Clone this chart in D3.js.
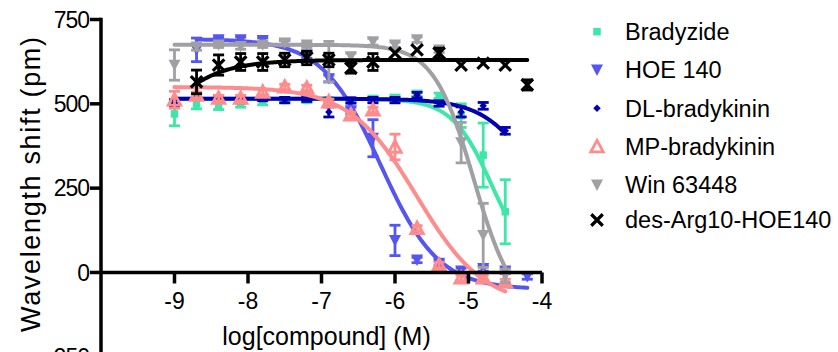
<!DOCTYPE html>
<html>
<head>
<meta charset="utf-8">
<script src="https://cdn.jsdelivr.net/npm/d3@7"></script>
<style>
  html, body { margin: 0; padding: 0; background: #fff; }
  svg { display: block; font-family: "Liberation Sans", Arial, sans-serif; }
</style>
</head>
<body>
<svg id="chart" width="838" height="352"></svg>
<script>
// ---- data ----
const logConc = [-9, -8.7, -8.4, -8.1, -7.8, -7.5, -7.2, -6.9, -6.6, -6.3, -6.0, -5.7, -5.4, -5.1, -4.8, -4.5, -4.2];

const seriesNames = ["Bradyzide", "HOE 140", "DL-bradykinin", "MP-bradykinin", "Win 63448", "des-Arg10-HOE140"];

const bradyzideMean = [470, 500, 495, 500, 505, 510, 510, 512, 510, 515, 518, 530, 524, 465, 348, 180, null];
const bradyzideErr  = [35, 15, 12, 10, 8, 6, 6, 6, 6, 8, 8, 8, 8, 35, 95, 95, null];

const hoeMean = [null, 660, 690, 690, 688, 680, 645, 575, 480, 398, 95, 37, 28, 5, 12, 5, -12];
const hoeErr  = [null, 35, 8, 8, 8, 8, 10, 10, 10, 55, 45, 8, 8, 8, 8, 8, 8];

const dlMean = [502, 526, 517, 511, 517, 511, 515, 476, 510, 511, 511, 526, 501, 476, 494, 420, null];
const dlErr  = [10, 8, 8, 8, 8, 8, 8, 15, 8, 8, 8, 8, 8, 15, 10, 10, null];

const mpMean = [512, 526, 517, 517, 535, 550, 547, 506, 467, 482, 372, 131, 22, -16, -16, -28, null];
const mpErr  = [25, 8, 8, 8, 8, 8, 8, 8, 8, 8, 38, 8, 8, 8, 8, 8, null];

const winMean = [615, 669, 675, 670, 675, 680, 675, 625, 640, 684, 675, 690, 660, 385, 110, -10, null];
const winErr  = [45, 10, 8, 8, 8, 8, 8, 60, 10, 10, 8, 8, 8, 60, 95, 20, null];

const desMean = [null, 565, 615, 624, 624, 630, 636, 630, 606, 624, 650, 660, 650, 615, 621, 615, 556];
const desErr  = [null, 35, 30, 25, 25, 20, 20, 20, 15, 25, 0, 0, 15, 0, 0, 0, 15];

// fitted curve parameters (top, bottom, logEC50, hill) and x range
const fitTop    = [515, 692, 515, 550, 675, 630];
const fitBottom = [0, -50, 0, -100, -120, 0];
const fitLogEC  = [-4.68, -6.2, -4.0, -5.7, -4.93, -9.6];
const fitHill   = [1.6, 1.1, 1.2, 0.95, 1.6, -1.0];
const fitFrom   = [-9, -8.7, -9, -9, -9, -8.7];
const fitTo     = [-4.5, -4.2, -4.5, -4.5, -4.5, -4.2];

const seriesColors = ["#3EE6A8", "#5555F2", "#0000B0", "#FF8C8C", "#A0A0A4", "#000000"];
const seriesShapes = ["square", "tridown", "diamond", "triup", "tridown", "cross"];

const xTicks = [-9, -8, -7, -6, -5, -4];
const yTicks = [750, 500, 250, 0, -250];

// ---- chart ----
const svg = d3.select("#chart");
const x = d3.scaleLinear().domain([-10, -4]).range([101, 542]);
const y = d3.scaleLinear().domain([-250, 750]).range([356.8, 19.5]);

const means = [bradyzideMean, hoeMean, dlMean, mpMean, winMean, desMean];
const errs  = [bradyzideErr, hoeErr, dlErr, mpErr, winErr, desErr];

function markerPath(shape, s) {
  switch (shape) {
    case "square":  return `M${-s/2},${-s/2}h${s}v${s}h${-s}Z`;
    case "tridown": return `M${-s/2},${-s*0.45}L${s/2},${-s*0.45}L0,${s*0.5}Z`;
    case "triup":   return `M${-s/2},${s*0.42}L${s/2},${s*0.42}L0,${-s*0.5}Z`;
    case "diamond": return `M0,${-s/2}L${s/2},0L0,${s/2}L${-s/2},0Z`;
    case "cross":   return `M${-s/2},${-s/2}L${s/2},${s/2}M${s/2},${-s/2}L${-s/2},${s/2}`;
  }
}
function drawMarker(g, shape, color, cx, cy) {
  const sizes = { square: 7.5, tridown: 12, diamond: 7.5, triup: 12.5, cross: 11.5 };
  const s = sizes[shape];
  const p = g.append("path").attr("d", markerPath(shape, s))
    .attr("transform", `translate(${cx},${cy})`);
  if (shape === "triup") {
    p.attr("fill", "none").attr("stroke", color).attr("stroke-width", 2.8).attr("stroke-linejoin", "miter");
  } else if (shape === "cross") {
    p.attr("fill", "none").attr("stroke", color).attr("stroke-width", 3.2);
  } else {
    p.attr("fill", color).attr("stroke", "none");
  }
}

const plot = svg.append("g");
const line = d3.line().x(d => x(d[0])).y(d => y(d[1])).curve(d3.curveLinear);

seriesNames.forEach((name, i) => {
  const g = plot.append("g");
  const color = seriesColors[i];
  // fitted curve
  const pts = [];
  const n = 200;
  for (let k = 0; k <= n; k++) {
    const lx = fitFrom[i] + (fitTo[i] - fitFrom[i]) * k / n;
    const v = fitBottom[i] + (fitTop[i] - fitBottom[i]) / (1 + Math.pow(10, (lx - fitLogEC[i]) * fitHill[i]));
    pts.push([lx, v]);
  }
  g.append("path").attr("d", line(pts)).attr("fill", "none")
    .attr("stroke", color).attr("stroke-width", 4).attr("stroke-linecap", "round");
  // error bars
  logConc.forEach((lx, j) => {
    const m = means[i][j], e = errs[i][j];
    if (m === null || !e) return;
    const cx = x(lx), y0 = y(m - e), y1 = y(m + e);
    g.append("line").attr("x1", cx).attr("x2", cx).attr("y1", y0).attr("y2", y1)
      .attr("stroke", color).attr("stroke-width", 2.8);
    [y0, y1].forEach(yy => g.append("line").attr("x1", cx - 5.5).attr("x2", cx + 5.5)
      .attr("y1", yy).attr("y2", yy).attr("stroke", color).attr("stroke-width", 2.8));
  });
  // markers
  logConc.forEach((lx, j) => {
    const m = means[i][j];
    if (m === null) return;
    drawMarker(g, seriesShapes[i], color, x(lx), y(m));
  });
});

// axes
const axisG = svg.append("g");
axisG.append("line").attr("x1", x(-10)).attr("x2", x(-4)).attr("y1", y(0)).attr("y2", y(0))
  .attr("stroke", "#000").attr("stroke-width", 3.5);
axisG.append("line").attr("x1", x(-10)).attr("x2", x(-10)).attr("y1", y(750) - 1.75).attr("y2", y(-250))
  .attr("stroke", "#000").attr("stroke-width", 3.5);

xTicks.forEach(t => {
  axisG.append("line").attr("x1", x(t)).attr("x2", x(t)).attr("y1", y(0)).attr("y2", y(0) + 11)
    .attr("stroke", "#000").attr("stroke-width", 3.5);
  axisG.append("text").attr("x", x(t)).attr("y", 309).attr("text-anchor", "middle")
    .attr("font-size", 23).attr("fill", "#000").text(String(t));
});
yTicks.forEach(t => {
  axisG.append("line").attr("x1", x(-10) - 11).attr("x2", x(-10)).attr("y1", y(t)).attr("y2", y(t))
    .attr("stroke", "#000").attr("stroke-width", 3.5);
  axisG.append("text").attr("x", 89).attr("y", y(t) + 8.3).attr("text-anchor", "end")
    .attr("font-size", 23).attr("letter-spacing", "-1px").attr("fill", "#000").text(String(t));
});

// axis titles
svg.append("text").attr("x", 326.5).attr("y", 345).attr("text-anchor", "middle")
  .attr("font-size", 25).attr("fill", "#000").text("log[compound] (M)");
svg.append("text").attr("transform", "translate(40,184.5) rotate(-90)")
  .attr("text-anchor", "middle").attr("font-size", 27)
  .attr("textLength", 295).attr("lengthAdjust", "spacing")
  .attr("fill", "#000").text("Wavelength shift (pm)");

// legend
const legendY = [31.7, 70, 108.3, 146.7, 185, 220];
const legend = svg.append("g");
seriesNames.forEach((name, i) => {
  drawMarker(legend, seriesShapes[i], seriesColors[i], 597, legendY[i]);
  legend.append("text").attr("x", 625).attr("y", legendY[i] + 8.3)
    .attr("font-size", 23.5).attr("fill", "#000").text(name);
});
</script>
</body>
</html>
